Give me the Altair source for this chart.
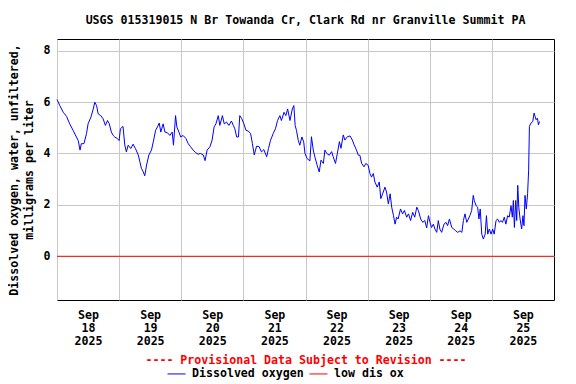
import altair as alt
import pandas as pd

TITLE = "USGS 015319015 N Br Towanda Cr, Clark Rd nr Granville Summit PA"
Y_TITLE = ["Dissolved oxygen, water, unfiltered,", "milligrams per liter"]
PROVISIONAL = "---- Provisional Data Subject to Revision ----"
SERIES = ["Dissolved oxygen", "low dis ox"]

# hours since 2025-09-18 00:00
hours = [
    0.0, 0.2, 1.1, 2.4, 3.7, 4.9, 6.2, 7.5, 8.2, 8.9, 9.4, 10.4, 11.4, 12.0, 13.1, 14.0, 14.6, 15.3,
    15.9, 16.9, 17.8, 18.7, 19.5, 20.2, 21.0, 21.7, 22.3, 23.3, 24.0, 24.5, 25.5, 26.2, 26.8, 27.5,
    28.5, 29.4, 30.3, 31.4, 32.0, 32.6, 33.3, 33.9, 34.6, 35.5, 36.5, 37.2, 38.1, 38.8, 39.5, 40.1,
    41.0, 41.7, 42.7, 43.6, 44.5, 45.0, 45.8, 46.3, 47.1, 47.8, 48.7, 49.8, 50.7, 51.6, 52.6, 53.6,
    54.5, 55.4, 56.5, 57.2, 58.0, 59.1, 59.9, 60.7, 61.4, 62.3, 62.9, 63.9, 64.6, 65.5, 66.4, 67.4,
    68.1, 68.7, 69.4, 70.1, 70.6, 71.4, 72.2, 73.0, 73.9, 74.8, 75.5, 76.2, 77.1, 78.1, 79.0, 79.9,
    81.0, 81.7, 82.5, 83.5, 84.4, 85.2, 86.1, 86.7, 87.7, 88.4, 89.1, 90.0, 90.9, 91.5, 92.0, 92.5,
    93.2, 93.8, 94.6, 95.3, 95.8, 96.6, 97.7, 98.3, 99.0, 99.6, 100.5, 101.3, 102.0, 102.9, 103.5,
    104.2, 105.2, 106.1, 106.7, 107.6, 108.3, 109.1, 109.7, 110.6, 111.2, 112.2, 113.2, 114.1, 114.8,
    115.7, 116.4, 117.0, 117.7, 118.6, 119.3, 120.2, 120.9, 121.5, 122.2, 122.8, 123.7, 124.5, 125.1,
    125.8, 126.7, 127.3, 128.0, 128.7, 129.3, 130.0, 130.6, 131.2, 131.8, 132.7, 133.5, 134.2, 135.1,
    135.8, 136.6, 137.4, 138.2, 139.0, 139.6, 140.5, 141.3, 142.1, 142.8, 143.5, 144.1, 144.7, 145.4,
    146.0, 146.7, 147.3, 147.9, 148.6, 149.5, 150.3, 150.9, 151.6, 152.5, 153.3, 154.0, 154.8, 155.7,
    156.4, 157.0, 157.6, 158.3, 158.9, 159.5, 160.2, 160.8, 161.2, 161.9, 162.5, 163.0, 163.5, 164.1,
    164.7, 165.4, 165.9, 166.4, 167.0, 167.7, 168.3, 168.9, 169.6, 170.2, 170.9, 171.5, 172.1, 172.8,
    173.4, 174.1, 174.7, 175.4, 175.9, 176.3, 176.7, 177.2, 177.6, 178.0, 178.4, 178.9, 179.5, 180.0,
    180.4, 180.8, 181.3, 181.8, 182.2, 182.5, 183.1, 183.8, 184.3, 184.7, 185.1, 185.6, 186.0, 186.4,
]
oxygen = [
    6.1, 6.05, 5.86, 5.6, 5.44, 5.15, 4.9, 4.64, 4.5, 4.13, 4.38, 4.38, 4.77, 5.15, 5.41, 5.73, 5.99, 5.86,
    5.54, 5.47, 5.35, 5.09, 5.28, 5.15, 4.83, 4.7, 4.64, 4.58, 4.5, 4.96, 5.05, 4.32, 4.06, 4.32,
    4.19, 4.36, 4.19, 3.94, 3.68, 3.42, 3.29, 3.13, 3.55, 3.94, 4.13, 4.45, 4.9, 5.03, 5.18, 4.83,
    5.15, 4.83, 4.8, 4.7, 4.83, 4.32, 5.47, 5.03, 4.83, 4.64, 4.7, 4.58, 4.38, 4.26, 4.13, 4.03,
    3.97, 4.0, 3.94, 3.72, 4.13, 4.26, 4.51, 5.03, 5.15, 5.47, 5.09, 5.47, 5.15, 5.22, 5.09, 5.26,
    5.09, 4.96, 4.64, 4.64, 5.47, 5.35, 5.15, 4.9, 4.87, 4.77, 4.38, 3.94, 4.28, 4.26, 4.06, 4.15,
    3.87, 4.19, 4.51, 4.77, 4.96, 5.28, 5.47, 5.28, 5.6, 5.47, 5.73, 5.28, 5.73, 5.86, 5.09, 4.9,
    4.51, 4.32, 4.64, 4.45, 4.0, 3.8, 3.71, 4.65, 4.13, 3.87, 3.54, 3.28, 3.74, 3.61, 4.13,
    4.0, 3.93, 4.07, 3.87, 3.61, 4.0, 4.46, 4.2, 4.72, 4.52, 4.65, 4.68, 4.52, 4.33,
    4.13, 3.93, 3.93, 3.61, 3.48, 3.61, 3.54, 3.22, 3.08, 3.22, 2.89, 2.69, 2.89, 2.24,
    2.43, 2.69, 2.5, 2.04, 2.43, 1.91, 1.58, 1.25, 1.52, 1.45, 1.84, 1.65, 1.78, 1.52,
    1.65, 1.39, 1.71, 1.52, 1.91, 1.78, 1.45, 1.32, 1.39, 1.1, 1.58, 1.32, 1.12, 1.25,
    1.06, 0.93, 1.39, 1.06, 0.93, 1.25, 1.32, 1.19, 1.45, 1.12, 1.06, 0.99, 0.93, 0.99,
    0.93, 1.39, 1.65, 1.32, 1.45, 1.58, 1.78, 2.37, 2.17, 1.97, 1.91, 1.45, 1.84, 0.86,
    0.67, 0.86, 1.58, 0.86, 1.06, 0.86, 1.06, 0.86, 1.39, 1.45, 1.32, 1.39, 1.32, 1.52,
    1.25, 1.58, 1.52, 1.97, 1.52, 2.17, 1.12, 2.17, 1.39, 2.76, 1.91, 1.45, 1.06, 1.58,
    1.19, 2.37, 1.84, 2.43, 3.35, 5.05, 5.18, 5.24, 5.57, 5.44, 5.31, 5.37, 5.11, 5.24,
]
threshold = [0]
day_starts = [0, 24, 48, 72, 96, 120, 144, 168]
y_ticks = [0, 2, 4, 6, 8]

FONT = "DejaVu Sans Mono"
FS = 11.6

do_df = pd.DataFrame({"h": hours, "v": oxygen, "s": SERIES[0]})
thr_df = pd.DataFrame({"v": threshold, "s": SERIES[1]})

color = alt.Color(
    "s:N",
    scale=alt.Scale(domain=SERIES, range=["#0000ff", "#ff0000"]),
    legend=alt.Legend(
        title=None, orient="none", direction="horizontal",
        legendX=110, legendY=325, symbolType="stroke", symbolSize=324,
        symbolStrokeWidth=1, labelFont=FONT, labelFontSize=FS, labelFontWeight="bold",
        labelColor="black", labelOffset=6, columnPadding=3,
    ),
)

x_enc = alt.X(
    "h:Q",
    scale=alt.Scale(domain=[0, 192], nice=False, zero=False),
    axis=alt.Axis(
        values=day_starts, grid=True, gridColor="#c8c8c8", ticks=False, tickSize=0, domain=False,
        labelOffset=31, labelFlush=False, labelPadding=9, labelLineHeight=13,
        labelExpr="['Sep', toString(18 + floor(datum.value / 24)), '2025']",
        labelFont=FONT, labelFontSize=FS, labelFontWeight="bold", labelColor="black",
        title=PROVISIONAL, titleColor="#ff0000", titleFont=FONT, titleFontSize=FS,
        titleFontWeight="bold", titlePadding=8,
    ),
)
y_enc = alt.Y(
    "v:Q",
    scale=alt.Scale(domain=[-1.7, 8.45], nice=False, zero=False),
    axis=alt.Axis(
        values=y_ticks, grid=True, gridColor="#c8c8c8", ticks=False, tickSize=0, domain=False,
        labelPadding=7, labelFont=FONT, labelFontSize=FS, labelFontWeight="bold", labelColor="black",
        title=Y_TITLE, titleFont=FONT, titleFontSize=FS, titleFontWeight="bold",
        titleColor="black", titlePadding=9, titleLineHeight=14.5,
    ),
)

line = alt.Chart(do_df).mark_line(strokeWidth=1).encode(x=x_enc, y=y_enc, color=color)
rule = alt.Chart(thr_df).mark_rule(strokeWidth=1).encode(y=alt.Y("v:Q"), color=color)

chart = (
    alt.layer(line, rule)
    .properties(
        width=497, height=261,
        title=alt.TitleParams(TITLE, font=FONT, fontSize=FS, fontWeight="bold", color="black", offset=12),
        autosize=alt.AutoSizeParams(type="none"),
        padding={"left": 49, "top": 31, "right": 14, "bottom": 84},
        background="white",
    )
    .configure_view(stroke="black", strokeWidth=1)
)

chart.save("out.html", embed_options={"renderer": "svg", "actions": False})
